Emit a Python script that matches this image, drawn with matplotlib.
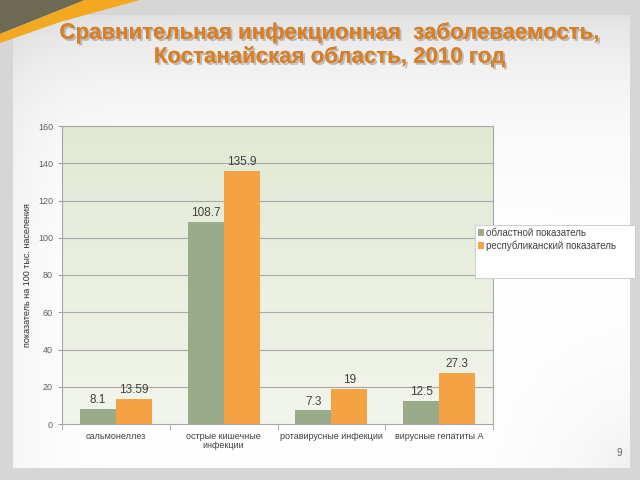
import matplotlib
matplotlib.use("Agg")
import matplotlib.pyplot as plt
import matplotlib.patheffects as pe
from matplotlib.patches import Polygon, Rectangle
import numpy as np

categories = ["сальмонеллез", "острые кишечные\nинфекции",
              "ротавирусные инфекции", "вирусные гепатиты А"]
regional = [8.1, 108.7, 7.3, 12.5]
republic = [13.59, 135.9, 19, 27.3]
regional_labels = ["8.1", "108.7", "7.3", "12.5"]
republic_labels = ["13.59", "135.9", "19", "27.3"]
series_names = ["областной показатель", "республиканский показатель"]
yticks = [0, 20, 40, 60, 80, 100, 120, 140, 160]

green = "#9aab8a"
orange = "#f4a244"
text_gray = "#404040"

plt.rcParams["font.family"] = ["Liberation Sans", "DejaVu Sans"]

fig = plt.figure(figsize=(6.4, 4.8), dpi=100)

# slide background (pixel coords, y down)
bg = fig.add_axes([0, 0, 1, 1], zorder=-10)
h, w = 480, 640
yy, xx = np.mgrid[0:h, 0:w]
inner = (xx > 12) & (xx < 630) & (yy > 14) & (yy < 468)
corner = np.exp(-np.hypot(640 - xx, 480 - yy) / 60.0)
shade = np.clip(1.0 - 0.14 * np.exp(-yy / 70.0) - 0.05 * np.exp(-xx / 40.0)
                - 0.08 * corner, 0, 1)
img = np.empty((h, w, 3))
for c in range(3):
    img[..., c] = np.where(inner, shade, 0.84)
bg.imshow(img, extent=[0, w, h, 0], aspect="auto")
bg.add_patch(Polygon([[0, 0], [85, 0], [0, 34]], closed=True,
                     facecolor="#6e6b55", edgecolor="none"))
bg.add_patch(Polygon([[0, 34], [85, 0], [140, 0], [60, 22], [0, 43]], closed=True,
                     facecolor="#f2a91f", edgecolor="none"))
bg.set_xlim(0, w)
bg.set_ylim(h, 0)
bg.axis("off")

fig.text(0.515, 0.906, "Сравнительная инфекционная  заболеваемость,\nКостанайская область, 2010 год",
         ha="center", va="center", fontsize=16, fontweight="bold", color="#d4802c",
         linespacing=1.15,
         path_effects=[pe.withSimplePatchShadow(offset=(1.5, -1.5), shadow_rgbFace="#8a7a6a", alpha=0.45),
                       pe.Normal()])
fig.text(0.967, 0.057, "9", ha="center", va="center", fontsize=7, color="#606060")

# chart
ax = fig.add_axes([62 / 640, 1 - 424 / 480, (493 - 62) / 640, (424 - 126) / 480])
ax.set_xlim(-0.5, 3.5)
ax.set_ylim(0, 160)
grad = np.linspace(0, 1, 100).reshape(-1, 1)
ax.imshow(grad, extent=[-0.5, 3.5, 0, 160], aspect="auto", origin="lower",
          cmap=matplotlib.colors.LinearSegmentedColormap.from_list("g", ["#f2f5ec", "#e1e9d3"]),
          zorder=0)
for t in yticks[1:]:
    ax.axhline(t, color="#a8a8a8", lw=0.8, zorder=1)

x = np.arange(len(categories))
bw = 0.335
b1 = ax.bar(x - bw / 2, regional, bw, color=green, zorder=2, label=series_names[0])
b2 = ax.bar(x + bw / 2, republic, bw, color=orange, zorder=2, label=series_names[1])
for rect, lab in zip(b1, regional_labels):
    ax.text(rect.get_x() + rect.get_width() / 2, rect.get_height() + 1.5, lab,
            ha="center", va="bottom", fontsize=8.5, color=text_gray)
for rect, lab in zip(b2, republic_labels):
    ax.text(rect.get_x() + rect.get_width() / 2, rect.get_height() + 1.5, lab,
            ha="center", va="bottom", fontsize=8.5, color=text_gray)

ax.set_yticks(yticks)
ax.set_xticks(x)
ax.set_xticklabels(categories, fontsize=6.5, color=text_gray, linespacing=1.0)
ax.tick_params(axis="y", labelsize=6.5, labelcolor="#606060", length=3, color="#a0a0a0")
ax.tick_params(axis="x", length=0, pad=6)
ax.set_xticks([-0.5, 0.5, 1.5, 2.5, 3.5], minor=True)
ax.tick_params(axis="x", which="minor", length=4, color="#a0a0a0")
for s in ax.spines.values():
    s.set_color("#a8a8a8")
    s.set_linewidth(0.8)
ax.set_ylabel("показатель на 100 тыс. населения", fontsize=6.5, color="#303030", labelpad=4)

# legend box
fig.patches.append(Rectangle((475 / 640, 1 - 278 / 480), 160 / 640, 53 / 480,
                             transform=fig.transFigure, facecolor="white",
                             edgecolor="#c8c8c8", lw=0.6, zorder=5))
leg = fig.legend(handles=[b1, b2], labels=series_names, loc="upper left",
                 bbox_to_anchor=(476 / 640, 1 - 226 / 480), fontsize=7,
                 frameon=False, handlelength=0.6, handleheight=0.6, handletextpad=0.2,
                 borderpad=0.2, labelspacing=0.25, borderaxespad=0)
leg.set_zorder(6)
for t in leg.get_texts():
    t.set_color(text_gray)

fig.savefig("out.png", dpi=100)
